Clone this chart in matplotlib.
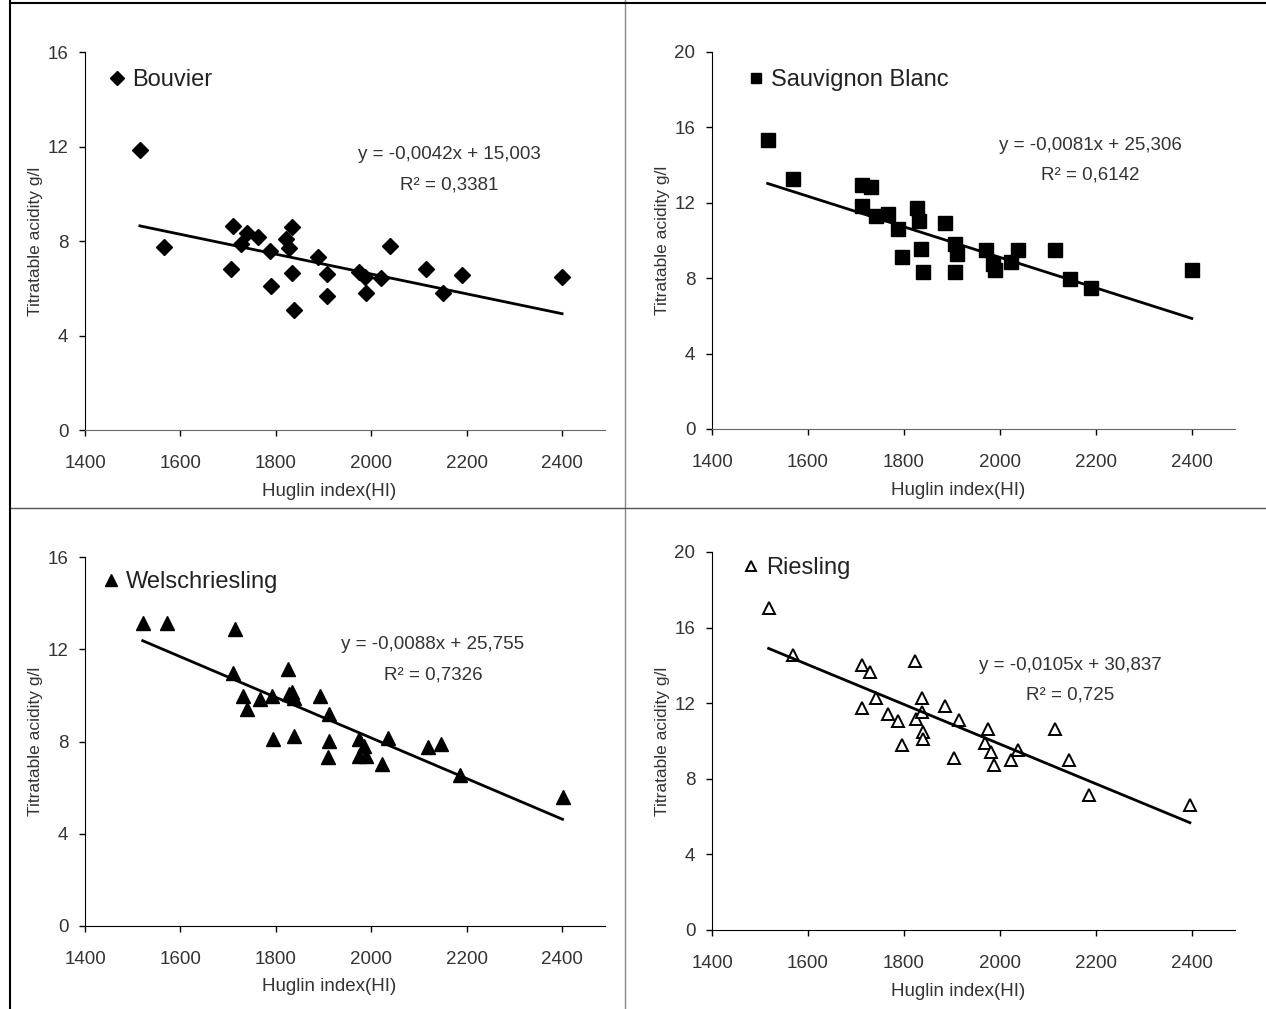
import matplotlib
matplotlib.use("Agg")
import matplotlib.pyplot as plt
from matplotlib.lines import Line2D
import numpy as np

plt.rcParams['font.family'] = ['Liberation Sans', 'DejaVu Sans']

# Huglin index (x) and titratable acidity (y)
bouvier_hi = [1515, 1565, 1710, 1705, 1727, 1739, 1762, 1788, 1790, 1822, 1828, 1834, 1834,
              1838, 1888, 1907, 1908, 1975, 1987, 1990, 2020, 2039, 2115, 2150, 2190, 2400]
bouvier_ta = [11.85, 7.76, 8.63, 6.80, 7.87, 8.32, 8.18, 7.59, 6.11, 8.07, 7.69, 8.61, 6.63,
              5.08, 7.34, 6.60, 5.67, 6.70, 6.46, 5.79, 6.42, 7.80, 6.80, 5.79, 6.56, 6.49]

sauv_hi = [1516, 1568, 1713, 1731, 1713, 1741, 1766, 1788, 1796, 1827, 1831, 1836, 1839,
           1886, 1907, 1911, 1907, 1971, 1986, 1989, 2024, 2037, 2114, 2146, 2189, 2400]
sauv_ta = [15.31, 13.27, 12.96, 12.83, 11.82, 11.29, 11.42, 10.62, 9.12, 11.73, 11.06, 9.56, 8.35,
           10.92, 9.82, 9.29, 8.32, 9.52, 8.76, 8.41, 8.85, 9.52, 9.52, 7.96, 7.47, 8.44]

welsch_hi = [1521, 1571, 1715, 1710, 1732, 1739, 1767, 1793, 1795, 1826, 1828, 1833, 1838, 1838,
             1892, 1912, 1911, 1909, 1974, 1984, 1974, 1988, 2022, 2036, 2118, 2146, 2187, 2401]
welsch_ta = [13.14, 13.14, 12.88, 10.95, 9.97, 9.39, 9.86, 9.97, 8.10, 11.15, 10.04, 10.14, 9.90, 8.24,
             9.97, 9.18, 8.03, 7.31, 8.13, 7.81, 7.38, 7.38, 7.02, 8.17, 7.78, 7.88, 6.54, 5.58]

ries_hi = [1518, 1569, 1712, 1730, 1823, 1742, 1712, 1766, 1787, 1797, 1837, 1826, 1837, 1840,
           1840, 1885, 1914, 1905, 1976, 1968, 1981, 1987, 2023, 2037, 2115, 2144, 2185, 2396]
ries_ta = [17.04, 14.54, 14.04, 13.66, 14.22, 12.25, 11.72, 11.45, 11.05, 9.78, 12.28, 11.19, 11.54, 10.48,
           10.13, 11.86, 11.10, 9.11, 10.61, 9.87, 9.43, 8.72, 8.99, 9.52, 10.66, 8.99, 7.14, 6.64]

names = ['Bouvier', 'Sauvignon Blanc', 'Welschriesling', 'Riesling']
slopes = [-0.0042, -0.0081, -0.0088, -0.0105]
intercepts = [15.003, 25.306, 25.755, 30.837]
eq_texts = ['y = -0,0042x + 15,003', 'y = -0,0081x + 25,306',
            'y = -0,0088x + 25,755', 'y = -0,0105x + 30,837']
r2_texts = ['R² = 0,3381', 'R² = 0,6142', 'R² = 0,7326', 'R² = 0,725']
y_max = [16, 20, 16, 20]

W, H = 1266, 1009
fig = plt.figure(figsize=(W / 100, H / 100), dpi=100)

# panel boxes in pixels: left, top(y max), right, bottom(y=0)
boxes = [(85, 52, 605, 430), (712, 52, 1235, 429), (85, 557, 605, 926), (712, 552, 1235, 930)]
markers = [dict(marker='D', ms=8.5, mfc='black', mec='black'),
           dict(marker='s', ms=9.5, mfc='black', mec='black'),
           dict(marker='^', ms=10, mfc='black', mec='black'),
           dict(marker='^', ms=9, mfc='white', mec='black', mew=1.4)]
legend_pos = [(0.045, 0.926), (0.068, 0.926), (0.034, 0.932), (0.058, 0.958)]
eq_pos = [(0.70, 0.728, 0.648), (0.723, 0.753, 0.674), (0.669, 0.762, 0.680), (0.685, 0.701, 0.622)]
data = [(bouvier_hi, bouvier_ta), (sauv_hi, sauv_ta), (welsch_hi, welsch_ta), (ries_hi, ries_ta)]
axis_col = ['#666666', '#666666', 'black', 'black']

for i in range(4):
    l, t, r, b = boxes[i]
    ax = fig.add_axes([l / W, 1 - b / H, (r - l) / W, (b - t) / H])
    hi, ta = data[i]
    pts, = ax.plot(hi, ta, linestyle='none', label=names[i], **markers[i])
    xs = np.array([min(hi), max(hi)])
    ax.plot(xs, slopes[i] * xs + intercepts[i], color='black', lw=2, label='_nolegend_')

    ax.set_xlim(1400, 2490)
    ax.set_ylim(0, y_max[i])
    ax.set_xticks([1400, 1600, 1800, 2000, 2200, 2400])
    ax.set_yticks(np.arange(0, y_max[i] + 1, 4))
    for s in ['top', 'right']:
        ax.spines[s].set_visible(False)
    ax.spines['left'].set_color('black')
    ax.spines['bottom'].set_color(axis_col[i])
    ax.tick_params(axis='both', direction='out', length=4, width=1, labelsize=13.5,
                   labelcolor='#333333')
    ax.tick_params(axis='x', pad=14)
    ax.tick_params(axis='y', pad=8)
    ax.set_facecolor('none')

    ax.set_xlabel('Huglin index(HI)', fontsize=13.5, color='#333333')
    ax.xaxis.set_label_coords(0.47, -0.14)
    ax.set_ylabel('Titratable acidity g/l', fontsize=12.5, color='#333333')
    ax.yaxis.set_label_coords(-0.08, 0.5)

    ax.legend(handles=[pts], loc='center left', bbox_to_anchor=legend_pos[i], frameon=False,
              fontsize=17, handlelength=0.7, handletextpad=0.3, borderpad=0, borderaxespad=0,
              markerscale=0.8, labelcolor='#222222')

    ex, ey1, ey2 = eq_pos[i]
    ax.text(ex, ey1, eq_texts[i], transform=ax.transAxes, ha='center', va='center',
            fontsize=13.5, color='#333333')
    ax.text(ex, ey2, r2_texts[i], transform=ax.transAxes, ha='center', va='center',
            fontsize=13.5, color='#333333')

# panel separators and outer border
fig.add_artist(Line2D([625 / W, 625 / W], [0, 1], color='#888888', lw=1))
fig.add_artist(Line2D([10 / W, 1], [1 - 508 / H, 1 - 508 / H], color='#555555', lw=1))
fig.add_artist(Line2D([10 / W, 10 / W], [0, 1], color='black', lw=1.5))
fig.add_artist(Line2D([10 / W, 1], [1 - 3 / H, 1 - 3 / H], color='black', lw=1.5))

fig.savefig('out.png', dpi=100)
